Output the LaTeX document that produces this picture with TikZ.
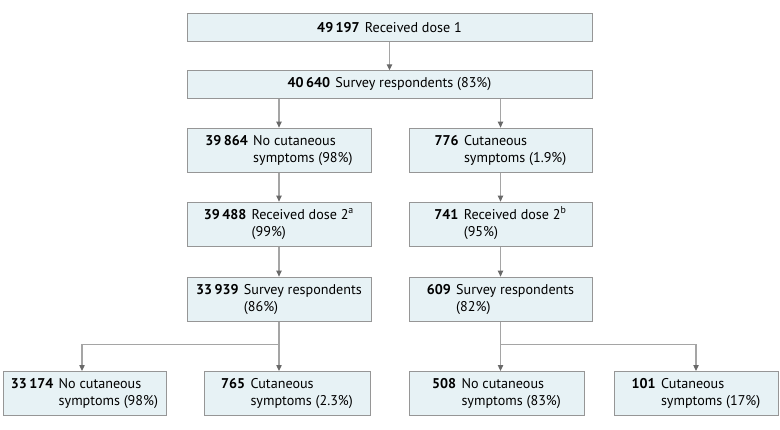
\documentclass[tikz,border=0pt]{standalone}
\usepackage{fontspec}
\setmainfont{PT Sans}
\usepackage{tikz}
\usetikzlibrary{positioning}
\usetikzlibrary{calc}
\usetikzlibrary{arrows.meta}

\definecolor{boxFill}{RGB}{231,242,245}
\definecolor{boxLine}{RGB}{150,150,150}
\definecolor{lineGray}{RGB}{165,165,165}
\definecolor{tipGray}{RGB}{105,105,105}

\newcommand{\flowtext}[3]{%
	\begin{tabular}{@{}r@{\hspace{4pt}}l@{}}\textbf{#1} & #2\\ & #3\end{tabular}}

\tikzset{
	flowbox/.style={
		draw=boxLine,
		line width=0.75pt,
		fill=boxFill,
		inner sep=0pt,
		minimum height=33pt,
		font=\fontsize{10.6}{12.75}\selectfont
	},
	flowarrow/.style={
		draw=lineGray,
		line width=0.9pt,
		-{Triangle[length=4.5pt,width=4pt,color=tipGray]}
	}
}

\begin{document}
\begin{tikzpicture}[x=0.75pt, y=-0.75pt]
\useasboundingbox (0,0) rectangle (780,429);

\node[
	flowbox,
	minimum width=303.75pt,
	minimum height=21.5pt
] (recv1) at (389.5,27.5) {\textbf{49\,197}\hspace{4pt}Received dose 1};

\node[
	flowbox,
	minimum width=303.75pt,
	minimum height=20.5pt
] (resp1) at (389.5,84.5) {\textbf{40\,640}\hspace{4pt}Survey respondents (83\%)};

% --- first dose, split by symptoms

\node[
	flowbox,
	minimum width=138pt,
	below=21.75pt of resp1.south west,
	anchor=north west
] (noSym1) {\flowtext{39\,864}{No cutaneous}{symptoms (98\%)}};

\node[
	flowbox,
	minimum width=137.25pt,
	below=21.75pt of resp1.south east,
	anchor=north east
] (sym1) {\flowtext{776}{Cutaneous}{symptoms (1.9\%)}};

\node[
	flowbox,
	minimum width=138pt,
	below=21.75pt of noSym1
] (dose2a) {\flowtext{39\,488}{Received dose 2\textsuperscript{a}}{(99\%)}};

\node[
	flowbox,
	minimum width=137.25pt,
	below=21.75pt of sym1
] (dose2b) {\flowtext{741}{Received dose 2\textsuperscript{b}}{(95\%)}};

\node[
	flowbox,
	minimum width=138pt,
	below=22.5pt of dose2a
] (resp2a) {\flowtext{33\,939}{Survey respondents}{(86\%)}};

\node[
	flowbox,
	minimum width=137.25pt,
	below=22.5pt of dose2b
] (resp2b) {\flowtext{609}{Survey respondents}{(82\%)}};

% --- second dose, split by symptoms

\node[
	flowbox,
	minimum width=122.25pt
] (noSym2a) at (84.5,393.5) {\flowtext{33\,174}{No cutaneous}{symptoms (98\%)}};

\node[
	flowbox,
	minimum width=124.5pt
] (sym2a) at (287,393.5) {\flowtext{765}{Cutaneous}{symptoms (2.3\%)}};

\node[
	flowbox,
	minimum width=131.25pt
] (noSym2b) at (496.5,393.5) {\flowtext{508}{No cutaneous}{symptoms (83\%)}};

\node[
	flowbox,
	minimum width=123pt
] (sym2b) at (696,393.5) {\flowtext{101}{Cutaneous}{symptoms (17\%)}};

\coordinate (splitA) at ($(resp2a.south) + (0,23)$);
\coordinate (splitB) at ($(resp2b.south) + (0,23)$);

% ---

\draw[flowarrow] (recv1.south) -- (resp1.north);

\draw[flowarrow] (resp1.south -| noSym1.north) -- (noSym1.north);
\draw[flowarrow] (resp1.south -| sym1.north) -- (sym1.north);

\draw[flowarrow] (noSym1.south) -- (dose2a.north);
\draw[flowarrow] (sym1.south) -- (dose2b.north);

\draw[flowarrow] (dose2a.south) -- (resp2a.north);
\draw[flowarrow] (dose2b.south) -- (resp2b.north);

% ---

\draw[flowarrow] (resp2a.south) -- (resp2a.south |- sym2a.north);
\draw[flowarrow] (splitA) -| ($(noSym2a.north) + (-2.5,0)$);

\draw[flowarrow] (resp2b.south) -- (resp2b.south |- noSym2b.north);
\draw[flowarrow] (splitB) -| (sym2b.north);

\end{tikzpicture}
\end{document}
